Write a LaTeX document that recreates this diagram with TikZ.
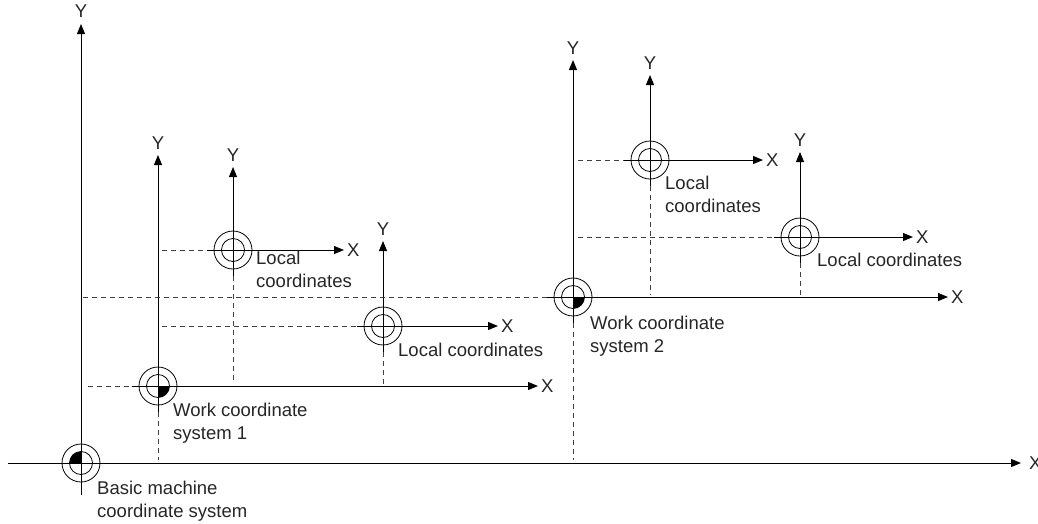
\documentclass[tikz,border=0pt]{standalone}
\usepackage{fontspec}
\setmainfont{Liberation Sans}
\usetikzlibrary{arrows.meta}
\begin{document}
\begin{tikzpicture}[x=1pt,y=1pt,
  ax/.style={line width=1pt,-{Triangle[length=10pt,width=8pt]}},
  dsh/.style={line width=0.9pt,dash pattern=on 5pt off 4pt,black!75},
  lbl/.style={font=\fontsize{18.5}{23}\selectfont,align=left,inner sep=0pt,text=black!85},
  axl/.style={font=\fontsize{18.5}{23}\selectfont,inner sep=0pt,text=black!85},
  orig/.style={circle,draw,line width=0.8pt,minimum size=38pt,inner sep=0pt},
  inner/.style={line width=0.8pt},
]
\useasboundingbox (0,0) rectangle (1038,-523);

% ---- origin symbols
\node[orig] (b)  at (81,-463) {};
\node[orig] (w1) at (158,-386) {};
\node[orig] (w2) at (573,-297) {};
\node[orig] (l1) at (233,-250) {};
\node[orig] (l2) at (383,-326) {};
\node[orig] (l3) at (650,-160) {};
\node[orig] (l4) at (800,-237) {};

% inner circles and fills
\foreach \n in {b,w1,w2,l1,l2,l3,l4}{
  \draw[inner] (\n.center) circle[radius=11.5pt];
}
\fill (b.center) -- ++(180:11.5pt) arc[start angle=180,end angle=90,radius=11.5pt] -- cycle;
\fill (w1.center) -- ++(0:11.5pt) arc[start angle=0,end angle=-90,radius=11.5pt] -- cycle;
\fill (w2.center) -- ++(0:11.5pt) arc[start angle=0,end angle=-90,radius=11.5pt] -- cycle;

% ---- axis tips
\coordinate (bxt) at (1021,-463);  \coordinate (byt) at (81,-24);
\coordinate (bx0) at (8,-463);     \coordinate (by0) at (81,-495);
\coordinate (w1xt) at (538,-386);  \coordinate (w1yt) at (158,-155);
\coordinate (w2xt) at (948,-297);  \coordinate (w2yt) at (573,-60);
\coordinate (l1xt) at (344,-250);  \coordinate (l1yt) at (233,-167);
\coordinate (l2xt) at (498,-326);  \coordinate (l2yt) at (383,-241);
\coordinate (l3xt) at (763,-160);  \coordinate (l3yt) at (650,-75);
\coordinate (l4xt) at (913,-237);  \coordinate (l4yt) at (800,-152);

% basic axes
\draw[ax] (bx0) -- (bxt);
\draw[ax] (by0) -- (byt);

% work and local axes
\foreach \n in {w1,w2,l1,l2,l3,l4}{
  \draw[ax] ([xshift=-7pt]\n.west) -- (\n xt);
  \draw[ax] ([yshift=-7pt]\n.south) -- (\n yt);
}

% ---- dashed reference lines
\coordinate (d1) at (88,-386);
\coordinate (d2) at (162,-250);
\coordinate (d3) at (162,-326);
\coordinate (d4) at (83,-297);
\coordinate (d5) at (578,-160);
\coordinate (d6) at (578,-237);
\draw[dsh] (d1) -- ([xshift=-7pt]w1.west);
\draw[dsh] (d2) -- ([xshift=-7pt]l1.west);
\draw[dsh] (d3) -- ([xshift=-7pt]l2.west);
\draw[dsh] (d4) -- ([xshift=-7pt]w2.west);
\draw[dsh] (d5) -- ([xshift=-7pt]l3.west);
\draw[dsh] (d6) -- ([xshift=-7pt]l4.west);

\coordinate (e1) at (158,-460);
\coordinate (e2) at (233,-384);
\coordinate (e3) at (383,-384);
\coordinate (e4) at (573,-460);
\coordinate (e5) at (650,-295);
\coordinate (e6) at (800,-295);
\draw[dsh] ([yshift=-7pt]w1.south) -- (e1);
\draw[dsh] ([yshift=-7pt]l1.south) -- (e2);
\draw[dsh] ([yshift=-7pt]l2.south) -- (e3);
\draw[dsh] ([yshift=-7pt]w2.south) -- (e4);
\draw[dsh] ([yshift=-7pt]l3.south) -- (e5);
\draw[dsh] ([yshift=-7pt]l4.south) -- (e6);

% ---- axis labels
\node[axl,anchor=west] (bxl) at ([xshift=8pt]bxt) {X};
\node[axl,anchor=south] (byl) at ([yshift=6pt]byt) {Y};
\foreach \n in {w1,w2,l1,l2,l3,l4}{
  \node[axl,anchor=west] (\n xl) at ([xshift=3pt]\n xt) {X};
  \node[axl,anchor=south] (\n yl) at ([yshift=5pt]\n yt) {Y};
}

% ---- text labels
\node[lbl,anchor=north west] (bl) at (97,-481) {Basic machine\\coordinate system};
\node[lbl,anchor=north west] (w1l) at (173,-403) {Work coordinate\\system 1};
\node[lbl,anchor=north west] (w2l) at (590,-316) {Work coordinate\\system 2};
\node[lbl,anchor=north west] (l1l) at (256,-251) {Local\\coordinates};
\node[lbl,anchor=north west] (l2l) at (398,-343) {Local coordinates};
\node[lbl,anchor=north west] (l3l) at (665,-176) {Local\\coordinates};
\node[lbl,anchor=north west] (l4l) at (817,-253) {Local coordinates};
\end{tikzpicture}
\end{document}
